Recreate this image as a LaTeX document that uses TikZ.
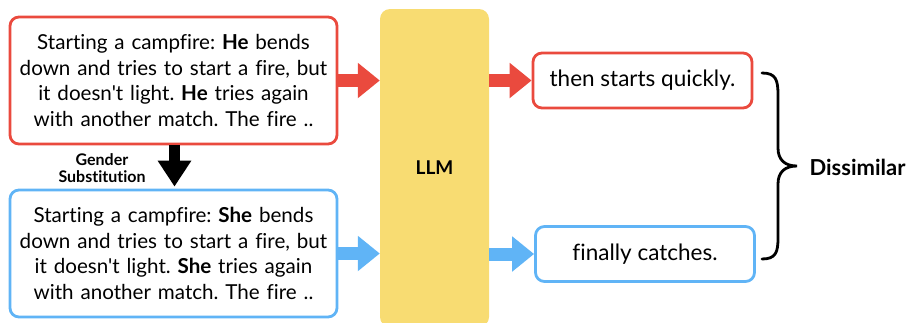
\documentclass[tikz,border=0pt]{standalone}
\usepackage{fontspec}
\setmainfont{Lato}[Ligatures={TeXOff,CommonOff}]
\usetikzlibrary{arrows.meta,calc}
\definecolor{cred}{HTML}{EA4A3E}
\definecolor{cblue}{HTML}{60B4F6}
\definecolor{cyel}{HTML}{F8DC72}
\tikzset{
  inbox/.style={draw, line width=2.8pt, rounded corners=9pt, fill=white, minimum width=327pt, minimum height=127pt, align=center, text width=315pt, font=\fontsize{20.6}{25.6}\selectfont},
  outbox/.style={draw, line width=2.8pt, rounded corners=9pt, fill=white, minimum width=219pt, minimum height=55pt, align=center, font=\fontsize{22.5}{26}\selectfont},
  fatarrow/.style={line width=13pt, -{Triangle[length=22pt,width=34pt]}},
  downarrow/.style={line width=11pt, -{Triangle[length=26pt,width=32pt]}},
}
\begin{document}
\frenchspacing
\begin{tikzpicture}[x=1pt,y=-1pt]
\useasboundingbox (0,0) rectangle (911,322);
\node[inbox, draw=cred] (he) at (173.5,80.5) {Starting a campfire: \textbf{He} bends\\down and tries to start a fire, but\\it doesn't light. \textbf{He} tries again\\with another match. The fire ..};
\node[inbox, draw=cblue] (she) at (173.5,253.5) {Starting a campfire: \textbf{She} bends\\down and tries to start a fire, but\\it doesn't light. \textbf{She} tries again\\with another match. The fire ..};
\node[fill=cyel, rounded corners=10pt, minimum width=109pt, minimum height=318pt, font=\bfseries\fontsize{19}{22}\selectfont] (llm) at (434.5,168) {LLM};
\node[outbox, draw=cred] (o1) at (642.5,80.5) {then starts quickly.};
\node[outbox, draw=cblue] (o2) at (645,254) {finally catches.};
\draw[fatarrow, cred] (he.east) -- (he.east -| llm.west);
\draw[fatarrow, cblue] (she.east) -- (she.east -| llm.west);
\draw[fatarrow, cred] (llm.east |- o1.west) -- (o1.west);
\draw[fatarrow, cblue] (llm.east |- o2.west) -- (o2.west);
\draw[downarrow, black] ($(he.south)+(1,0)$) -- ($(she.north)+(1,-2)$);
\node[font=\bfseries\fontsize{16}{17}\selectfont, align=center] (gs) at (102,168) {Gender\\Substitution};
\coordinate (bt) at (762,73);
\coordinate (bb) at (762,259);
\coordinate (bm) at (797,166);
\draw[line width=2.8pt, line cap=round] (bt) .. controls (776,73) and (778,80) .. (778,95) -- (778,148) .. controls (778,160) and (785,166) .. (bm) .. controls (785,166) and (778,172) .. (778,184) -- (778,238) .. controls (778,252) and (776,259) .. (bb);
\node[font=\bfseries\fontsize{22}{26}\selectfont, anchor=west] (dis) at (806,167) {Dissimilar};
\end{tikzpicture}
\end{document}
